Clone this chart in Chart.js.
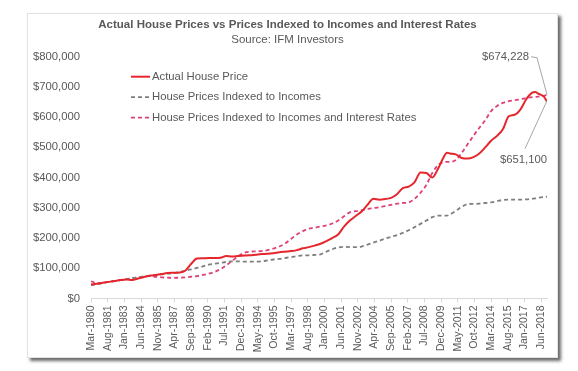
<!DOCTYPE html>
<html><head><meta charset="utf-8">
<script src="https://cdn.jsdelivr.net/npm/chart.js@4"></script>
<style>
html,body{margin:0;padding:0;background:#fff;}
#card{position:absolute;left:27px;top:13px;width:529px;height:343px;background:#fff;border:1px solid #e2e2e2;box-shadow:3px 3px 3px rgba(70,70,70,0.8);}
canvas{display:block;}
</style></head><body>
<div id="card"><canvas id="c" width="529" height="343"></canvas></div>
<script>
// Values in thousands of dollars
const dates = [
 'Mar-1980','Sep-1980','Mar-1981','Sep-1981','Mar-1982','Sep-1982','Mar-1983','Sep-1983','Mar-1984','Sep-1984',
 'Mar-1985','Sep-1985','Mar-1986','Sep-1986','Mar-1987','Sep-1987','Mar-1988','Sep-1988','Mar-1989','Sep-1989',
 'Mar-1990','Sep-1990','Mar-1991','Sep-1991','Mar-1992','Sep-1992','Mar-1993','Sep-1993','Mar-1994','Sep-1994',
 'Mar-1995','Sep-1995','Mar-1996','Sep-1996','Mar-1997','Sep-1997','Mar-1998','Sep-1998','Mar-1999','Sep-1999',
 'Mar-2000','Sep-2000','Mar-2001','Sep-2001','Mar-2002','Sep-2002','Mar-2003','Sep-2003','Mar-2004','Sep-2004',
 'Mar-2005','Sep-2005','Mar-2006','Sep-2006','Mar-2007','Sep-2007','Mar-2008','Sep-2008','Mar-2009','Sep-2009',
 'Mar-2010','Jun-2010','Sep-2010','Mar-2011','Sep-2011','Mar-2012','Sep-2012','Mar-2013','Sep-2013',
 'Mar-2014','Sep-2014','Mar-2015','Sep-2015','Mar-2016','Sep-2016','Mar-2017','Sep-2017','Dec-2017',
 'Mar-2018','Sep-2018','Dec-2018'
];
const actualPrice = [
 46,49, 52,55, 58,61, 63,61, 66,71,
 75,78, 81,84, 85,86, 92,114, 132,133,
 134,134, 135,141, 139,141, 142,143, 145,147,
 148,150, 153,155, 157,160, 166,170, 175,181,
 190,200, 212,238, 258,273, 288,310, 330,327,
 329,333, 345,365, 370,385, 417,415, 400,430,
 470,482,480, 477,465, 463,468, 480,500,
 522,538, 560,603, 608,626, 660,681,683,
 678,667,651.1
];
const indexedToIncomes = [
 44,47, 51,55, 58,61, 64,67, 70,73,
 76,77, 80,82, 84,88, 92,96, 101,106,
 112,115, 118,121, 123,123, 122,122, 122,123,
 126,129, 131,134, 137,140, 143,143, 144,146,
 155,163, 169,171, 170,170, 172,178, 185,191,
 198,204, 210,217, 226,236, 247,258, 269,274,
 274,274,278, 290,303, 312,313, 314,316,
 318,322, 326,327, 327,327, 328,330,331,
 333,336,337
];
const indexedToIncomesAndRates = [
 57,51, 52,55, 58,61, 64,67, 70,73,
 74,72, 70,69, 68,69, 70,72, 74,78,
 82,88, 97,110, 124,140, 151,155, 156,157,
 160,165, 172,182, 197,212, 223,231, 235,238,
 242,248, 258,272, 285,289, 292,296, 299,302,
 306,310, 314,316, 318,330, 350,376, 415,442,
 451,452,452, 458,482, 510,538, 565,590,
 620,637, 647,653, 656,659, 663,666,667,
 668,671,674.228
];
const tickLabels = ['Mar-1980','Aug-1981','Jan-1983','Jun-1984','Nov-1985','Apr-1987','Sep-1988','Feb-1990',
 'Jul-1991','Dec-1992','May-1994','Oct-1995','Mar-1997','Aug-1998','Jan-2000','Jun-2001','Nov-2002',
 'Apr-2004','Sep-2005','Feb-2007','Jul-2008','Dec-2009','May-2011','Oct-2012','Mar-2014','Aug-2015',
 'Jan-2017','Jun-2018'];
const seriesNames = ['Actual House Price','House Prices Indexed to Incomes','House Prices Indexed to Incomes and Interest Rates'];
const chartTitle = 'Actual House Prices vs Prices Indexed to Incomes and Interest Rates';
const chartSubtitle = 'Source: IFM Investors';
const UNIT = 1000;

const MONTHS = ['Jan','Feb','Mar','Apr','May','Jun','Jul','Aug','Sep','Oct','Nov','Dec'];
function monthIndex(s){ const [m,y] = s.split('-'); return (+y - 1980)*12 + MONTHS.indexOf(m) - 2; }
function money(v){ return '$' + Math.round(v).toString().replace(/\B(?=(\d{3})+(?!\d))/g, ','); }
function pts(arr){ return arr.map((v,i)=>({x: monthIndex(dates[i]), y: v*UNIT})); }

const TXT = '#595959';
const FONT = "'Liberation Sans', Arial, sans-serif";
Chart.defaults.font.family = FONT;
Chart.defaults.color = TXT;

const legendPlugin = {
  id: 'innerLegend',
  afterDraw(chart){
    const ctx = chart.ctx, a = chart.chartArea;
    ctx.save();
    ctx.font = '11.3px ' + FONT;
    ctx.textBaseline = 'middle';
    chart.data.datasets.forEach((ds, i) => {
      const y = a.top + 20 + i*20.5;
      const x0 = a.left + 40;
      ctx.strokeStyle = ds.borderColor;
      ctx.lineWidth = ds.borderWidth;
      ctx.setLineDash(ds.borderDash || []);
      ctx.beginPath(); ctx.moveTo(x0, y); ctx.lineTo(x0 + 19, y); ctx.stroke();
      ctx.setLineDash([]);
      ctx.fillStyle = TXT;
      ctx.textAlign = 'left';
      ctx.fillText(ds.label, x0 + 21, y);
    });
    // end-value annotations
    const pinkMeta = chart.getDatasetMeta(2), redMeta = chart.getDatasetMeta(0);
    const pEnd = pinkMeta.data[pinkMeta.data.length-1];
    const rEnd = redMeta.data[redMeta.data.length-1];
    ctx.strokeStyle = '#a6a6a6'; ctx.lineWidth = 1;
    ctx.beginPath();
    ctx.moveTo(pEnd.x - 16, pEnd.y - 38); ctx.lineTo(pEnd.x - 10, pEnd.y - 37); ctx.lineTo(pEnd.x, pEnd.y);
    ctx.stroke();
    ctx.beginPath();
    ctx.moveTo(rEnd.x - 22, rEnd.y + 47); ctx.lineTo(rEnd.x, rEnd.y - 1);
    ctx.stroke();
    ctx.fillStyle = TXT;
    ctx.textAlign = 'right';
    ctx.fillText(money(indexedToIncomesAndRates[indexedToIncomesAndRates.length-1]*UNIT), pEnd.x - 18, pEnd.y - 38);
    ctx.fillText(money(actualPrice[actualPrice.length-1]*UNIT), rEnd.x, rEnd.y + 58);
    ctx.restore();
  }
};

new Chart(document.getElementById('c'), {
  type: 'line',
  data: {
    datasets: [
      { label: seriesNames[0], data: pts(actualPrice), borderColor: '#e5262d', borderWidth: 2, pointRadius: 0, cubicInterpolationMode: 'monotone' },
      { label: seriesNames[1], data: pts(indexedToIncomes), borderColor: '#7f7f7f', borderWidth: 1.8, borderDash: [4,3], pointRadius: 0, cubicInterpolationMode: 'monotone' },
      { label: seriesNames[2], data: pts(indexedToIncomesAndRates), borderColor: '#e0407a', borderWidth: 1.8, borderDash: [4,3], pointRadius: 0, cubicInterpolationMode: 'monotone' }
    ]
  },
  options: {
    responsive: false,
    animation: false,
    layout: { padding: { left: 0, right: 10, top: 0, bottom: 0 } },
    plugins: {
      legend: { display: false },
      tooltip: { enabled: false },
      title: { display: true, text: chartTitle, color: TXT, font: { size: 11.5, weight: 'bold' }, padding: { top: 4, bottom: 0 } },
      subtitle: { display: true, text: chartSubtitle, color: TXT, font: { size: 11.5 }, padding: { top: 1.6, bottom: 9.5 } }
    },
    scales: {
      x: {
        type: 'linear', min: 0, max: monthIndex(dates[dates.length-1]),
        afterBuildTicks: s => { s.ticks = tickLabels.map(l => ({ value: monthIndex(l) })); },
        afterFit: s => { s.height = 58.5; },
        grid: { drawOnChartArea: false, drawTicks: true, tickLength: 4, color: '#d9d9d9' },
        border: { display: true, color: '#d9d9d9' },
        ticks: { autoSkip: false, minRotation: 90, maxRotation: 90, padding: 3, color: TXT, font: { size: 10.5 },
          callback: (v, i) => tickLabels[i] }
      },
      y: {
        min: 0, max: 800000,
        afterFit: s => { s.width = 63; },
        grid: { display: false, drawTicks: false },
        border: { display: false },
        ticks: { stepSize: 100000, padding: 11, color: TXT, font: { size: 11.3 }, callback: v => money(v) }
      }
    }
  },
  plugins: [legendPlugin]
});
</script>
</body></html>
